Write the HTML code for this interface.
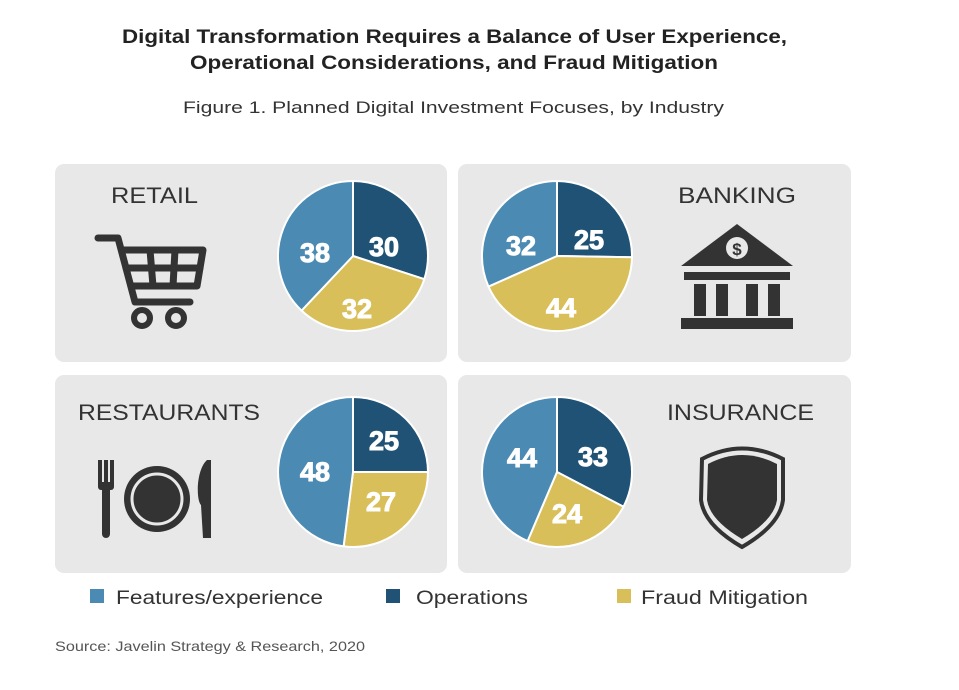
<!DOCTYPE html>
<html><head><meta charset="utf-8"><style>
body{margin:0;background:#fff;}
svg{display:block;font-family:"Liberation Sans",sans-serif;}
</style></head><body>
<svg width="959" height="690" viewBox="0 0 959 690">
<text x="122" y="43" font-size="19" font-weight="bold" fill="#222" textLength="665" lengthAdjust="spacingAndGlyphs">Digital Transformation Requires a Balance of User Experience,</text>
<text x="190" y="69" font-size="19" font-weight="bold" fill="#222" textLength="528" lengthAdjust="spacingAndGlyphs">Operational Considerations, and Fraud Mitigation</text>
<text x="183" y="113" font-size="17" fill="#333" textLength="541" lengthAdjust="spacingAndGlyphs">Figure 1. Planned Digital Investment Focuses, by Industry</text>

<g fill="#e8e8e9">
<rect x="55" y="164" width="392" height="198" rx="9"/>
<rect x="458" y="164" width="393" height="198" rx="9"/>
<rect x="55" y="375" width="392" height="198" rx="9"/>
<rect x="458" y="375" width="393" height="198" rx="9"/>
</g>

<g font-size="22" fill="#333" lengthAdjust="spacingAndGlyphs">
<text x="111" y="203" textLength="87" lengthAdjust="spacingAndGlyphs">RETAIL</text>
<text x="678" y="203" textLength="118" lengthAdjust="spacingAndGlyphs">BANKING</text>
<text x="78" y="420" textLength="182" lengthAdjust="spacingAndGlyphs">RESTAURANTS</text>
<text x="667" y="420" textLength="147" lengthAdjust="spacingAndGlyphs">INSURANCE</text>
</g>

<g stroke="#fff" stroke-width="2" stroke-linejoin="round">
<path d="M353 256 L353 181 A75 75 0 0 1 424.3 279.2 Z" fill="#1f5275"/>
<path d="M353 256 L424.3 279.2 A75 75 0 0 1 301.6 310.6 Z" fill="#d9bf5a"/>
<path d="M353 256 L301.6 310.6 A75 75 0 0 1 353 181 Z" fill="#4a8ab3"/>
<path d="M557 256 L557 181 A75 75 0 0 1 632 257.2 Z" fill="#1f5275"/>
<path d="M557 256 L632 257.2 A75 75 0 0 1 488.5 286.6 Z" fill="#d9bf5a"/>
<path d="M557 256 L488.5 286.6 A75 75 0 0 1 557 181 Z" fill="#4a8ab3"/>
<path d="M353 472 L353 397 A75 75 0 0 1 428 472 Z" fill="#1f5275"/>
<path d="M353 472 L428 472 A75 75 0 0 1 343.6 546.4 Z" fill="#d9bf5a"/>
<path d="M353 472 L343.6 546.4 A75 75 0 0 1 353 397 Z" fill="#4a8ab3"/>
<path d="M557 472 L557 397 A75 75 0 0 1 623.5 506.7 Z" fill="#1f5275"/>
<path d="M557 472 L623.5 506.7 A75 75 0 0 1 527.6 541 Z" fill="#d9bf5a"/>
<path d="M557 472 L527.6 541 A75 75 0 0 1 557 397 Z" fill="#4a8ab3"/>
</g>

<g font-size="27" font-weight="bold" fill="#fff" text-anchor="middle" stroke="#fff" stroke-width="1">
<text x="315" y="262">38</text><text x="384" y="256">30</text><text x="357" y="318">32</text>
<text x="521" y="255">32</text><text x="589" y="249">25</text><text x="561" y="317">44</text>
<text x="315" y="481">48</text><text x="384" y="450">25</text><text x="381" y="511">27</text>
<text x="522" y="467">44</text><text x="593" y="466">33</text><text x="567" y="523">24</text>
</g>

<g fill="none" stroke="#333" stroke-width="7" stroke-linecap="round" stroke-linejoin="round">
<path d="M98 238 H118 L135 302 H190"/>
<path d="M123 250 H203 L197 286 H133"/>
<path d="M126 268 H200"/>
<path d="M150 250 L153 286 M175 250 L173 286"/>
</g>
<circle cx="142" cy="318" r="8" fill="none" stroke="#333" stroke-width="6"/>
<circle cx="176" cy="318" r="8" fill="none" stroke="#333" stroke-width="6"/>

<g fill="#333">
<path d="M681 266 L737 224 L793 266 Z"/>
<rect x="684" y="272" width="106" height="8"/>
<rect x="694" y="284" width="12" height="32"/>
<rect x="716" y="284" width="12" height="32"/>
<rect x="746" y="284" width="12" height="32"/>
<rect x="768" y="284" width="12" height="32"/>
<rect x="681" y="318" width="112" height="11"/>
</g>
<circle cx="737" cy="248" r="11" fill="#e8e8e9"/>
<text x="737" y="255" font-size="17" font-weight="bold" text-anchor="middle" fill="#333">$</text>

<g fill="#333">
<rect x="98" y="460" width="4" height="26"/><rect x="104" y="460" width="4" height="26"/><rect x="110" y="460" width="4" height="26"/>
<rect x="98" y="482" width="16" height="8" rx="3"/>
<rect x="102" y="486" width="8" height="52" rx="4"/>
<path d="M207 460 C196 470 196 500 201 505 L203 538 H211 V460 Z"/>
</g>
<circle cx="157" cy="499" r="33" fill="#333"/>
<circle cx="157" cy="499" r="25" fill="none" stroke="#e8e8e9" stroke-width="3"/>

<path d="M702 459 Q742 438 783 459 L783 500 Q780 525 742 547 Q704 525 701 500 Z" fill="none" stroke="#333" stroke-width="4"/>
<path d="M708 464 Q742 446 777 464 L777 500 Q774 520 742 539 Q710 520 707 500 Z" fill="#333"/>

<rect x="90" y="589" width="14" height="14" fill="#4a8ab3"/>
<text x="116" y="604" font-size="19" fill="#333" textLength="207" lengthAdjust="spacingAndGlyphs">Features/experience</text>
<rect x="386" y="589" width="14" height="14" fill="#1f5275"/>
<text x="416" y="604" font-size="19" fill="#333" textLength="112" lengthAdjust="spacingAndGlyphs">Operations</text>
<rect x="617" y="589" width="14" height="14" fill="#d9bf5a"/>
<text x="641" y="604" font-size="19" fill="#333" textLength="167" lengthAdjust="spacingAndGlyphs">Fraud Mitigation</text>

<text x="55" y="651" font-size="14" fill="#555" textLength="310" lengthAdjust="spacingAndGlyphs">Source: Javelin Strategy &amp; Research, 2020</text>
</svg>
</body></html>
